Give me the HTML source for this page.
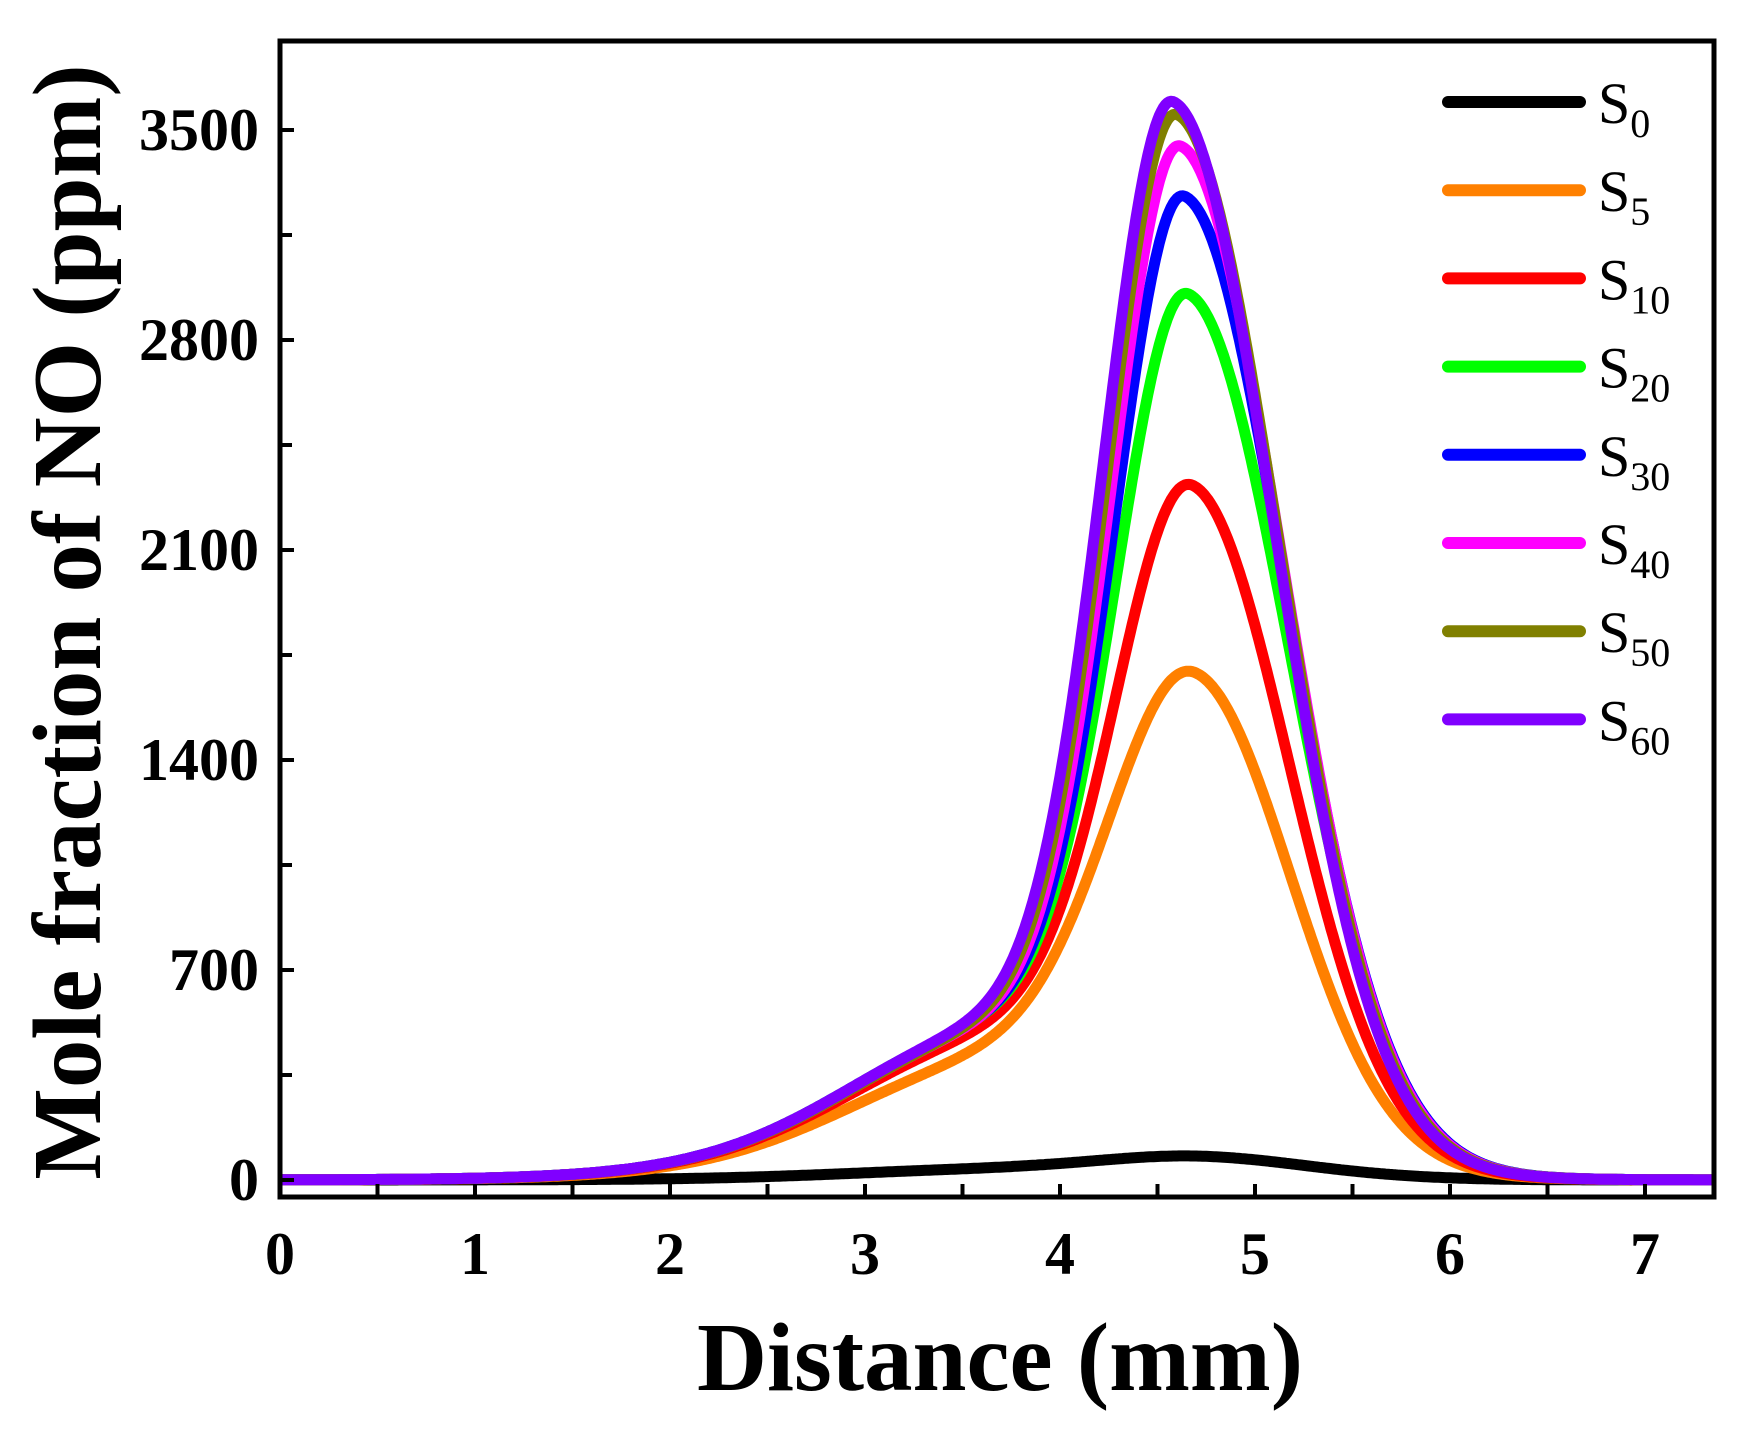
<!DOCTYPE html>
<html><head><meta charset="utf-8"><style>
html,body{margin:0;padding:0;background:#fff}
svg{display:block}
text{font-family:"Liberation Serif",serif}
</style></head><body>
<svg id="s" width="1746" height="1430" viewBox="0 0 1746 1430" xmlns="http://www.w3.org/2000/svg">
<defs><clipPath id="c"><rect x="282" y="41" width="1430" height="1154"/></clipPath></defs>
<g id="curves" clip-path="url(#c)"></g>
<rect x="280" y="41" width="1434" height="1156" fill="none" stroke="#000" stroke-width="5"/>
<g id="ticks" stroke="#000" stroke-width="4"></g>
<g font-weight="bold" font-size="60" text-anchor="end" id="yl"></g>
<g font-weight="bold" font-size="60" text-anchor="middle" id="xl"></g>
<text x="1000" y="1390" font-size="97" font-weight="bold" text-anchor="middle">Distance (mm)</text>
<text transform="translate(100,622) rotate(-90)" font-size="97" font-weight="bold" text-anchor="middle">Mole fraction of NO (ppm)</text>
<g id="leg"></g>
</svg>
<script>
const X=x=>280+195*x, Y=v=>1180-0.3*v;
function f(x){return 1/(1+Math.exp(-(x-2.95)/0.42))/(1+Math.exp((x-5.1)/0.3));}
const S=[
['#000',45,4.75,0.5,0.6,45,'0'],
['#ff8000',1300,4.69,0.42,0.5,500,'5'],
['#ff0000',1850,4.68,0.38,0.5,590,'10'],
['#00ff00',2450,4.66,0.36,0.52,630,'20'],
['#0000ff',2770,4.64,0.35,0.52,630,'30'],
['#ff00ff',2940,4.62,0.35,0.52,620,'40'],
['#808000',3040,4.6,0.35,0.52,620,'50'],
['#8000ff',3070,4.58,0.35,0.52,630,'60']];
let h='',lg='';
S.forEach((s,i)=>{const[col,A,mu,sl,sr,Sh,lab]=s;let d='';
for(let x=0;x<=7.5;x+=0.01){const sg=x<mu?sl:sr;const v=A*Math.exp(-Math.pow((x-mu)/sg,2)/2)+Sh*f(x);d+=(x?'L':'M')+X(x).toFixed(1)+' '+Y(v).toFixed(1);}
h+=`<path d="${d}" fill="none" stroke="${col}" stroke-width="11" stroke-linejoin="round"/>`;
const y=102+i*88.2;
lg+=`<line x1="1448" y1="${y}" x2="1580" y2="${y}" stroke="${col}" stroke-width="12" stroke-linecap="round"/><text x="1598" y="${y+21}" font-size="58">S<tspan font-size="40" dy="14">${lab}</tspan></text>`;});
document.getElementById('curves').innerHTML=h;document.getElementById('leg').innerHTML=lg;
let t='',yl='',xl='';
for(let v=0;v<=3800;v+=350){const y=Y(v);t+=`<line x1="280" y1="${y}" x2="${v%700?292:294}" y2="${y}"/>`;if(v%700==0)yl+=`<text x="259" y="${y+20}">${v}</text>`;}
for(let x=0;x<=7.3;x+=0.5){const xx=X(x);t+=`<line x1="${xx}" y1="1197" x2="${xx}" y2="1184"/>`;if(x%1==0)xl+=`<text x="${xx}" y="1274">${x}</text>`;}
document.getElementById('ticks').innerHTML=t;document.getElementById('yl').innerHTML=yl;document.getElementById('xl').innerHTML=xl;
</script>
</body></html>
